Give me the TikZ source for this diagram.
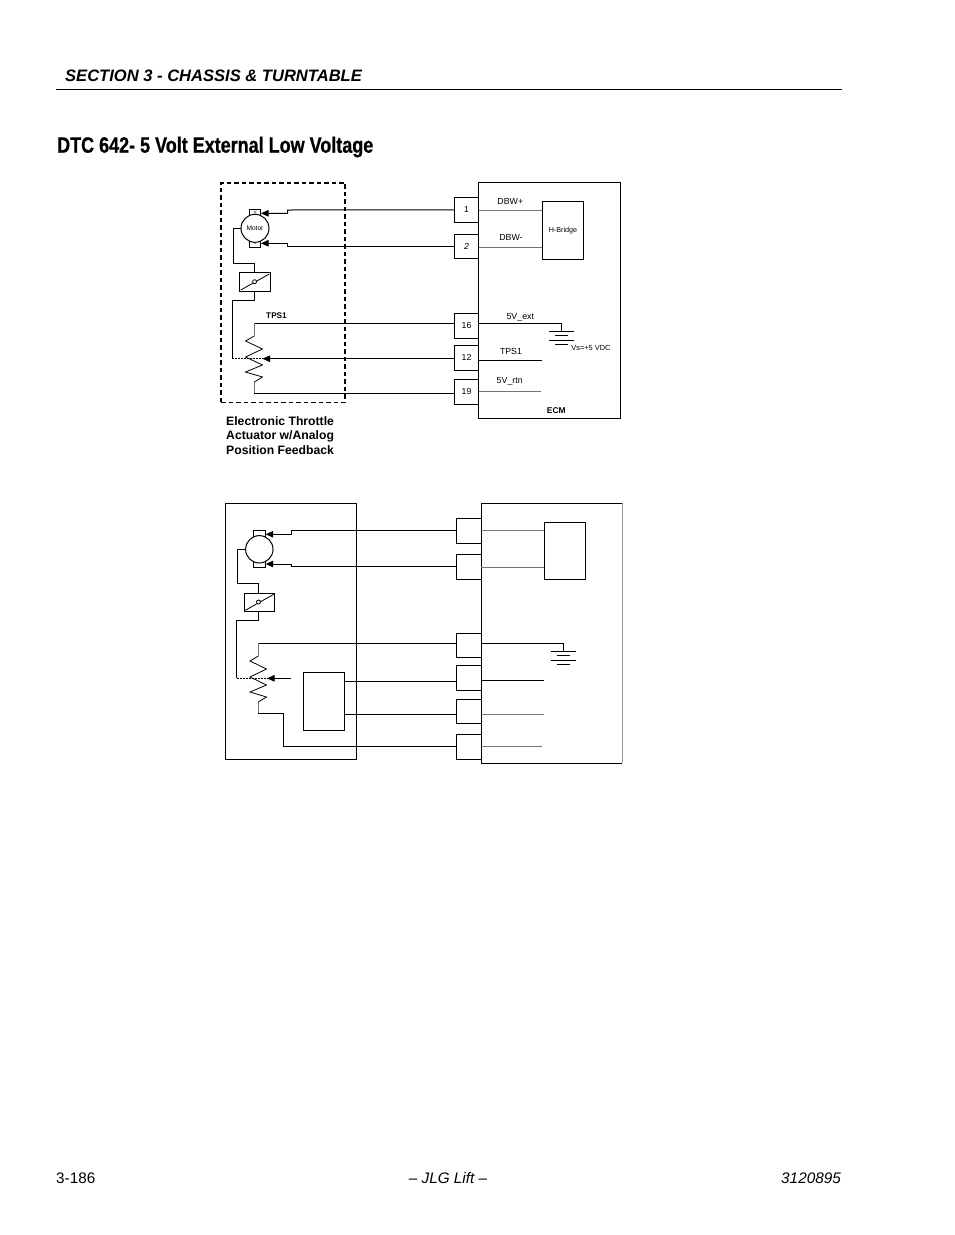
\documentclass[tikz,border=0pt]{standalone}
\usepackage{fontspec}
\setmainfont{Liberation Sans}
\newfontfamily\condbold[FakeStretch=0.81,FakeBold=0.7]{Liberation Sans Bold}
\usetikzlibrary{arrows.meta,calc}
\tikzset{
  x=1pt,y=-1pt,
  wire/.style={line width=1pt,black},
  greywire/.style={line width=1pt,black!55},
  arrowwire/.style={wire,-{Triangle[length=7.5pt,width=6.5pt]}},
  boxn/.style={draw=black,line width=1pt,inner sep=0pt,outer sep=0pt,fill=white,anchor=center},
  pin/.style={boxn,minimum width=24.4pt,minimum height=25pt,font=\fontsize{8.7}{10}\selectfont},
  term/.style={boxn,minimum width=11.5pt,minimum height=5.7pt,font=\fontsize{6}{5}\selectfont},
  motor/.style={boxn,circle,minimum size=28pt,font=\fontsize{6.6}{7}\selectfont},
  lbl/.style={inner sep=0pt,outer sep=0pt,font=\fontsize{8.8}{10}\selectfont},
  dot/.style={draw=black,fill=white,circle,line width=0.8pt,minimum size=4pt,inner sep=0pt,outer sep=0pt},
}
\begin{document}
\begin{tikzpicture}
\useasboundingbox (0,0) rectangle (954,1235);
\fill[white] (0,0) rectangle (954,1235);
% header
\coordinate (ruleL) at (56,89.5);
\coordinate (ruleR) at (842,89.5);
\draw[line width=1pt] (ruleL) -- (ruleR);
\node[anchor=west,inner sep=0pt,font=\fontsize{16.55}{18}\selectfont\bfseries\itshape] (head) at (65,75.7) {SECTION 3 - CHASSIS \& TURNTABLE};
\node[anchor=west,inner sep=0pt,font=\fontsize{22.2}{24}\selectfont\condbold] (title) at (57,147) {DTC 642- 5 Volt External Low Voltage};
% footer
\node[anchor=west,inner sep=0pt,font=\fontsize{15.3}{17}\selectfont] (fl) at (56,1178.5) {3-186};
\node[inner sep=0pt,font=\fontsize{15.3}{17}\selectfont\itshape] (fc) at (448,1178.5) {– JLG Lift –};
\node[anchor=east,inner sep=0pt,font=\fontsize{15.3}{17}\selectfont\itshape] (fr) at (841,1178.5) {3120895};

% ===== top diagram =====
\node[boxn,fill=none,dashed,line width=1.5pt,dash pattern=on 4.5pt off 3pt,minimum width=124pt,minimum height=219.5pt] (act) at (283,292.5) {};
\node[boxn,minimum width=142pt,minimum height=236.3pt] (ecm) at (549.7,300.8) {};
\node[font=\fontsize{8.4}{9}\selectfont\bfseries,inner sep=0pt] (ecml) at (556.3,410.3) {ECM};
\node[pin] (p1) at (466.5,209.8) {1};
\node[pin,minimum height=24pt] (p2) at (466.5,246.3) {\itshape 2};
\node[pin] (p16) at (466.5,325.8) {16};
\node[pin] (p12) at (466.5,357.8) {12};
\node[pin] (p19) at (466.5,391.8) {19};
\node[boxn,minimum width=41.4pt,minimum height=57.7pt,font=\fontsize{7.2}{8}\selectfont] (hb) at (563,230.2) {H-Bridge};
\node[term] (tp) at (255,212.8) {+};
\node[term] (tm) at (255,244.5) {-};
\node[motor] (mot) at (255,228.3) {Motor};
\node[boxn,minimum width=31.4pt,minimum height=18.7pt] (sw) at (255,281.7) {};
\coordinate (tipP) at (261,213.3);
\coordinate (tipM) at (261,243.3);
\draw[arrowwire] (p1.west) -- (287.7,210) -- (287.7,213.3) -- (tipP);
\draw[arrowwire] (p2.west) -- (287.7,246.3) -- (287.7,243.3) -- (tipM);
\draw[wire] (mot.west) -- (233.3,228.3) -- (233.3,263.3) -- (254.3,263.3) -- (254.3,272.3);
\draw[line width=0.8pt] (240.7,290) -- (269.3,274);
\node[dot] (swd) at (254.6,281.7) {};
\coordinate (wip) at (232.3,358.7);
\coordinate (wipT) at (262.5,358.7);
\draw[wire] (254.3,291) -- (254.3,300.3) -- (232.3,300.3) -- (wip);
\draw[wire,dash pattern=on 2pt off 1pt] (wip) -- (wipT);
\draw[arrowwire] (p12.west |- 0,358.7) -- (wipT);
\coordinate (rT) at (254.3,323.3);
\coordinate (rB) at (254.3,393.3);
\draw[wire] (p16.west |- rT) -- (rT);
\draw[wire] (p19.west |- rB) -- (rB);
\draw[greywire] (rT) -- (254.3,336);
\draw[greywire] (254.3,382) -- (rB);
\draw[line width=0.8pt] (254.3,336) -- (245.5,341) -- (262.5,349) -- (245.5,357) -- (262.5,365) -- (245.5,372) -- (262.5,377) -- (254.3,382);
\node[lbl,font=\fontsize{8.2}{9}\selectfont\bfseries] (tpsl) at (276.5,315.7) {TPS1};
\node[anchor=north west,inner sep=0pt,align=left,font=\fontsize{12.2}{14.6}\selectfont\bfseries] (actl) at (226,416) {Electronic Throttle\\Actuator w/Analog\\Position Feedback};
% ecm inside
\draw[greywire] (ecm.west |- 0,210) -- (hb.west |- 0,210);
\draw[greywire] (ecm.west |- 0,247) -- (hb.west |- 0,247);
\coordinate (g1) at (561.7,331);
\draw[wire] (ecm.west |- 0,323.3) -- (561.7,323.3) -- (g1);
\draw[line width=0.8pt] (549,331) -- (574.3,331) (555,335.3) -- (568.3,335.3) (549,340) -- (574.3,340) (555,344) -- (568.3,344);
\draw[wire] (ecm.west |- 0,360) -- (542,360);
\draw[greywire] (ecm.west |- 0,391.7) -- (541,391.7);
\node[lbl] (l1) at (510.3,201) {DBW+};
\node[lbl] (l2) at (511,237.7) {DBW-};
\node[lbl] (l3) at (520.3,317) {5V\_ext};
\node[lbl] (l4) at (511,351.7) {TPS1};
\node[lbl] (l5) at (509.7,381.7) {5V\_rtn};
\node[lbl,font=\fontsize{7.4}{8}\selectfont] (l6) at (591,347.5) {Vs=+5 VDC};

% ===== bottom diagram =====
\node[boxn,minimum width=130.6pt,minimum height=256pt] (act2) at (291,631.3) {};
\node[boxn,draw=none,fill=none,minimum width=141pt,minimum height=260pt] (ecm2) at (551.8,633.3) {};
\draw[wire] (ecm2.north east) -- (ecm2.north west) -- (ecm2.south west) -- (ecm2.south east);
\draw[line width=1pt,black!40] (ecm2.north east) -- (ecm2.south east);
\node[pin] (q1) at (468.8,530.8) {};
\node[pin] (q2) at (468.8,566.8) {};
\node[pin,minimum height=24pt] (q3) at (468.8,645.3) {};
\node[pin] (q4) at (468.8,677.8) {};
\node[pin,minimum height=24pt] (q5) at (468.8,711.3) {};
\node[pin] (q6) at (468.8,746.8) {};
\node[boxn,minimum width=41.4pt,minimum height=57pt] (hb2) at (565,550.8) {};
\node[term] (tp2) at (259.5,533.8) {};
\node[term] (tm2) at (259.5,564.5) {};
\node[motor,minimum size=27.4pt] (mot2) at (259.3,549.3) {};
\node[boxn,minimum width=30.4pt,minimum height=18pt] (sw2) at (259.5,602.3) {};
\node[boxn,minimum width=41pt,minimum height=58pt] (sens) at (323.8,701.3) {};
\coordinate (tipP2) at (265.7,534.3);
\coordinate (tipM2) at (265.7,564);
\draw[arrowwire] (q1.west |- 0,530) -- (291.7,530) -- (291.7,534.3) -- (tipP2);
\draw[arrowwire] (q2.west |- 0,566.3) -- (291.7,566.3) -- (291.7,564) -- (tipM2);
\draw[wire] (mot2.west) -- (237.7,549.3) -- (237.7,583.3) -- (258.3,583.3) -- (258.3,593.3);
\draw[line width=0.8pt] (245.3,610.3) -- (273.7,594.3);
\node[dot] (swd2) at (258.5,602) {};
\coordinate (wip2) at (236.7,678.3);
\coordinate (wipT2) at (267,678.3);
\coordinate (wipS) at (291,678.3);
\draw[wire] (258.3,611.3) -- (258.3,620.3) -- (236.7,620.3) -- (wip2);
\draw[wire,dash pattern=on 2pt off 1pt] (wip2) -- (wipT2);
\draw[arrowwire] (wipS) -- (wipT2);
\coordinate (rT2) at (258.3,643.3);
\coordinate (rB2) at (258.3,713.3);
\draw[wire] (q3.west |- rT2) -- (rT2);
\draw[wire] (rB2) -- (283.3,713.3) -- (283.3,746.3) -- (q6.west |- 0,746.3);
\draw[greywire] (rT2) -- (258.3,656);
\draw[greywire] (258.3,702) -- (rB2);
\draw[line width=0.8pt] (258.3,656) -- (250,661) -- (266.5,669) -- (250,677) -- (266.5,685) -- (250,692) -- (266.5,697) -- (258.3,702);
\draw[wire] (sens.east |- 0,681.5) -- (q4.west |- 0,681.5);
\draw[wire] (sens.east |- 0,714.3) -- (q5.west |- 0,714.3);
% ecm inside
\draw[greywire] (ecm2.west |- 0,530.7) -- (hb2.west |- 0,530.7);
\draw[greywire] (ecm2.west |- 0,567.3) -- (hb2.west |- 0,567.3);
\coordinate (g2) at (563.3,651.3);
\draw[wire] (ecm2.west |- 0,643.3) -- (563.3,643.3) -- (g2);
\draw[line width=0.8pt] (550.7,651.3) -- (576,651.3) (557.3,655.3) -- (570,655.3) (550.7,660.3) -- (576,660.3) (557.3,664.3) -- (570,664.3);
\draw[wire] (ecm2.west |- 0,680.3) -- (544.3,680.3);
\draw[greywire] (ecm2.west |- 0,714) -- (544.3,714);
\draw[greywire] (ecm2.west |- 0,746.3) -- (541.7,746.3);
\end{tikzpicture}
\end{document}
